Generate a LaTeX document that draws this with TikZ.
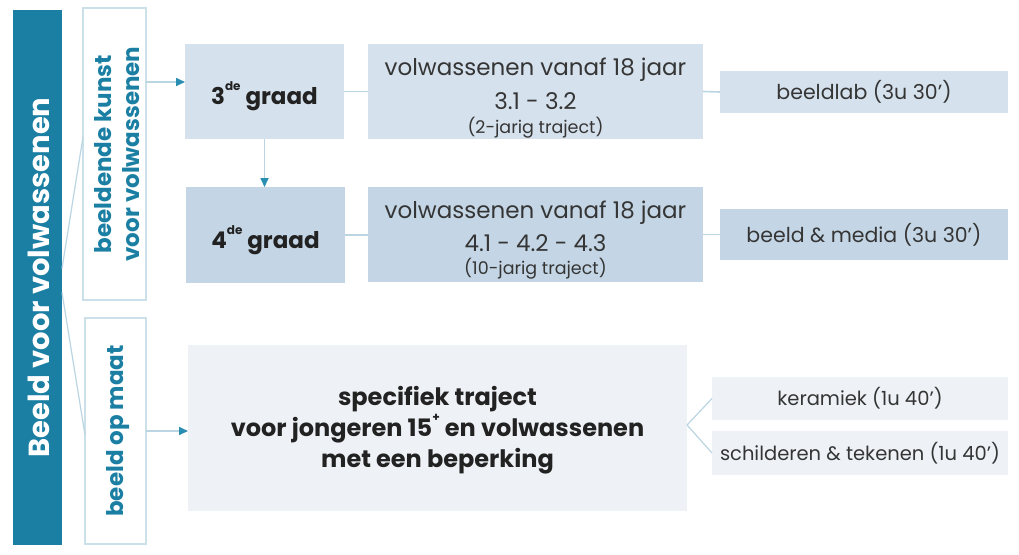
\documentclass[tikz,border=0pt]{standalone}
\usepackage{fontspec}
\setmainfont{Poppins}
\usetikzlibrary{arrows.meta,calc}
\definecolor{teal1}{HTML}{1B7FA3}
\definecolor{tealArr}{HTML}{2A8DB2}
\definecolor{boxA}{HTML}{D5E1EC}
\definecolor{boxB}{HTML}{C4D6E5}
\definecolor{boxC}{HTML}{EEF2F6}
\definecolor{lineC}{HTML}{BAD6E2}
\definecolor{borderC}{HTML}{CBE0E9}
\definecolor{txtB}{HTML}{222222}
\definecolor{txtR}{HTML}{353535}
\newcommand{\mysup}[1]{\raisebox{0.6em}{\fontsize{12}{12}\selectfont #1}}
\begin{document}
\begin{tikzpicture}[x=1pt,y=-1pt,
  rect/.style={anchor=north west, inner sep=0pt, outer sep=0pt},
  conn/.style={draw=lineC, line width=1.6pt},
  arr/.style={conn, -{Triangle[length=9pt,width=8pt,color=tealArr]}},
  vlab/.style={rotate=90, align=center, text=teal1, font=\bfseries\fontsize{23}{28}\selectfont, inner sep=0pt},
  bold/.style={text=txtB, font=\bfseries\fontsize{23}{26}\selectfont, inner sep=0pt},
  reg/.style={text=txtR, font=\fontsize{23}{26}\selectfont, inner sep=0pt},
  small/.style={text=txtR, font=\fontsize{17.5}{20}\selectfont, inner sep=0pt},
  side/.style={text=txtR, font=\fontsize{20.5}{24}\selectfont, inner sep=0pt}]
\useasboundingbox (0,0) rectangle (1019,554);
\fill[white] (0,0) rectangle (1019,554);

% boxes
\node[rect, fill=teal1, minimum width=49pt, minimum height=535pt] (bar) at (13,10) {};
\node[rect, fill=white, draw=borderC, line width=1.6pt, minimum width=63pt, minimum height=292pt] (bk) at (83,8) {};
\node[rect, fill=white, draw=borderC, line width=1.6pt, minimum width=61pt, minimum height=226pt] (bom) at (85,318) {};
\node[rect, fill=boxA, minimum width=159pt, minimum height=95pt] (g3) at (185,44) {};
\node[rect, fill=boxB, minimum width=159pt, minimum height=96pt] (g4) at (186,187) {};
\node[rect, fill=boxA, minimum width=335pt, minimum height=95pt] (v3) at (368,44) {};
\node[rect, fill=boxB, minimum width=335pt, minimum height=95pt] (v4) at (368,187) {};
\node[rect, fill=boxA, minimum width=288pt, minimum height=42pt] (bl) at (720,71) {};
\node[rect, fill=boxB, minimum width=288pt, minimum height=51pt] (bm) at (720,209) {};
\node[rect, fill=boxC, minimum width=499pt, minimum height=166pt] (sp) at (188,345) {};
\node[rect, fill=boxC, minimum width=296pt, minimum height=43pt] (ker) at (712,377) {};
\node[rect, fill=boxC, minimum width=296pt, minimum height=44pt] (sch) at (712,431) {};

% texts
\node[rotate=90, text=white, font=\bfseries\fontsize{29}{32}\selectfont, inner sep=0pt] (tbar) at ([xshift=1pt]bar.center) {Beeld voor volwassenen};
\node[vlab] (tbk) at ([xshift=3pt]bk.center) {beeldende kunst\\voor volwassenen};
\node[vlab] (tbom) at ([xshift=3pt]bom.center) {beeld op maat};
\node[bold] (tg3) at ([yshift=-5pt]g3.center) {3\mysup{de} graad};
\node[bold] (tg4) at ([yshift=-5pt]g4.center) {4\mysup{de} graad};
\node[reg] (tv3a) at ($(v3.north)+(0,26)$) {volwassenen vanaf 18 jaar};
\node[reg] (tv3b) at ($(v3.north)+(0,57)$) {3.1 - 3.2};
\node[small] (tv3c) at ($(v3.north)+(0,84)$) {(2-jarig traject)};
\node[reg] (tv4a) at ($(v4.north)+(0,26)$) {volwassenen vanaf 18 jaar};
\node[reg] (tv4b) at ($(v4.north)+(0,56)$) {4.1 - 4.2 - 4.3};
\node[small] (tv4c) at ($(v4.north)+(0,82)$) {(10-jarig traject)};
\node[side] (tbl) at (bl.center) {beeldlab (3u 30')};
\node[side] (tbm) at (bm.center) {beeld \& media (3u 30')};
\node[bold, align=center, font=\bfseries\fontsize{24}{31}\selectfont] (tsp) at ([yshift=-2pt]sp.center) {specifiek traject\\voor jongeren 15\mysup{+} en volwassenen\\met een beperking};
\node[side, font=\fontsize{19.5}{22}\selectfont] (tker) at (ker.center) {keramiek (1u 40')};
\node[side, font=\fontsize{19.5}{22}\selectfont] (tsch) at (sch.center) {schilderen \& tekenen (1u 40')};

% connectors
\draw[conn, line width=1.2pt] ([yshift=9pt]bar.east) -- ([yshift=17pt]bk.west);
\draw[conn, line width=1.2pt] ([yshift=-15pt]bar.east) -- ([yshift=-4pt]bom.west);
\draw[arr] ([yshift=72pt]bk.east) -- ([yshift=72pt]bk.east -| g3.west);
\draw[arr] (g3.south) -- (g3.south |- g4.north);
\draw[conn] (g3.east) -- (v3.west);
\draw[conn] (g4.east) -- (g4.east -| v4.west);
\draw[conn] (v3.east) -- (bl.west);
\draw[conn] (v4.east) -- (bm.west);
\draw[arr] (bom.east) -- (bom.east -| sp.west);
\draw[conn, line width=1.2pt] ([yshift=3pt]sp.east) -- (ker.west);
\draw[conn, line width=1.2pt] ([yshift=3pt]sp.east) -- (sch.west);
\end{tikzpicture}
\end{document}
